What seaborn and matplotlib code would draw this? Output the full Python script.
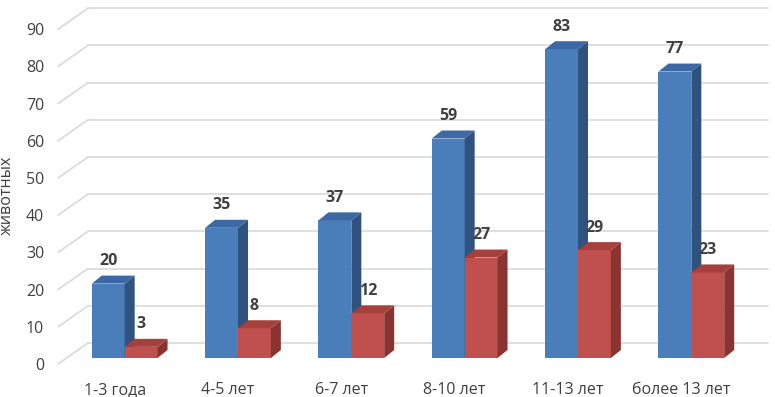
import numpy as np
import pandas as pd
import matplotlib
matplotlib.use('Agg')
import matplotlib.pyplot as plt
import matplotlib.transforms as mtransforms
from matplotlib.patches import Polygon
from matplotlib.colors import to_rgba
import seaborn as sns

# data
categories = ['1-3 года', '4-5 лет', '6-7 лет', '8-10 лет', '11-13 лет', 'более 13 лет']
series_blue = [20, 35, 37, 59, 83, 77]
series_red = [3, 8, 12, 27, 29, 23]
y_ticks = [0, 10, 20, 30, 40, 50, 60, 70, 80, 90]
y_label = 'животных'

# colours: front, side, top
BLUE = ('#4A7EBB', '#30527F', '#3C68A3')
RED = ('#C0504D', '#8A3432', '#A5403D')
GRID = '#D9D9D9'
TEXT = '#404040'

DPI = 100
DX, DY = 10, 8            # bar depth in pixels
FRONT = (-10, -6)         # front edge of the wall, pixels
BACK = (20, 15)           # back wall, pixels

df = pd.DataFrame({
    'group': categories * 2,
    'series': ['Ряд 1'] * len(categories) + ['Ряд 2'] * len(categories),
    'value': series_blue + series_red,
})

sns.set_theme(style='white')
plt.rcParams['font.family'] = ['Open Sans', 'DejaVu Sans']

fig = plt.figure(figsize=(7.75, 3.97), dpi=DPI)
ax = fig.add_axes([68 / 775, 39 / 397, 680 / 775, 334.8 / 397])

sns.barplot(data=df, x='group', y='value', hue='series',
            palette=[BLUE[0], RED[0]], width=0.58, saturation=1,
            linewidth=0, legend=False, ax=ax)

ax.set_xlim(-0.5, 5.5)
ax.set_ylim(0, 90)
sns.despine(ax=ax, left=True, bottom=True)
ax.grid(False)
ax.set_xlabel('')
ax.set_ylabel('')

px = lambda x, y: mtransforms.ScaledTranslation(x / DPI, y / DPI, fig.dpi_scale_trans)
front_tr = ax.transData + px(*FRONT)
back_tr = ax.transData + px(*BACK)
ident = mtransforms.IdentityTransform()

# back wall gridlines with the slanted left edge
for v in y_ticks:
    ax.plot([-0.5, 5.5], [v, v], transform=back_tr, color=GRID, lw=1.2,
            clip_on=False, zorder=0)
    f = front_tr.transform((-0.5, v))
    b = back_tr.transform((-0.5, v))
    ax.plot([f[0], b[0]], [f[1], b[1]], transform=ident, color=GRID, lw=1.2,
            clip_on=False, zorder=0)

# side and top faces for each bar
for bar in list(ax.patches):
    is_blue = np.allclose(bar.get_facecolor(), to_rgba(BLUE[0]))
    cols = BLUE if is_blue else RED
    z = 2 if is_blue else 3
    bar.set_zorder(z)
    x0, w, h = bar.get_x(), bar.get_width(), bar.get_height()
    (ax0, ay0), (ax1, ay1) = ax.transData.transform([(x0, 0), (x0 + w, h)])
    side = [(ax1, ay0), (ax1, ay1), (ax1 + DX, ay1 + DY), (ax1 + DX, ay0 + DY)]
    top = [(ax0, ay1), (ax1, ay1), (ax1 + DX, ay1 + DY), (ax0 + DX, ay1 + DY)]
    ax.add_patch(Polygon(side, closed=True, facecolor=cols[1], edgecolor='none',
                         transform=ident, clip_on=False, zorder=z + 0.5))
    ax.add_patch(Polygon(top, closed=True, facecolor=cols[2], edgecolor='none',
                         transform=ident, clip_on=False, zorder=z + 0.5))

for cont in ax.containers:
    ax.bar_label(cont, padding=10.5, fontsize=11.5, fontweight='bold', color=TEXT,
                 zorder=5)

# ticks sit on the front edge of the floor / wall
ax.set_yticks(y_ticks)
ax.tick_params(axis='y', length=0, pad=10, labelsize=11.5, labelcolor=TEXT)
ax.tick_params(axis='x', length=0, pad=13, labelsize=11.5, labelcolor=TEXT)
for tick in ax.yaxis.get_major_ticks() + ax.xaxis.get_major_ticks():
    tick.label1.set_transform(tick.label1.get_transform() + px(*FRONT))

fig.text(7 / 775, 1 - 195 / 397, y_label, rotation=90, ha='center', va='center',
         fontsize=11.5, color=TEXT)

fig.savefig('out.png', dpi=DPI)
